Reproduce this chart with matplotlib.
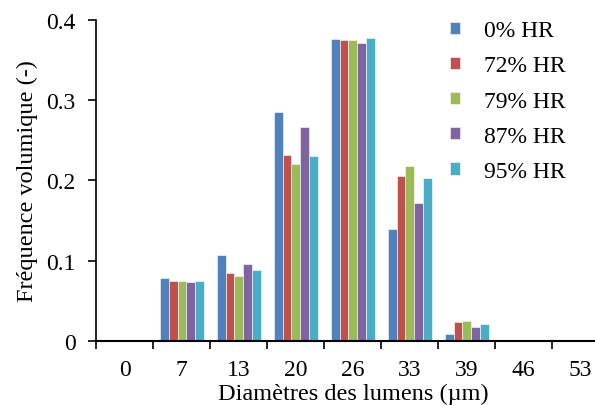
import numpy as np
import matplotlib
matplotlib.use("Agg")
import matplotlib.pyplot as plt

plt.rcParams['font.family'] = ['Liberation Serif', 'DejaVu Serif']

# classes de diamètre (µm)
diametres = ['0', '7', '13', '20', '26', '33', '39', '46', '53']

# fréquences volumiques par humidité relative
hr_0 = [0, 0.079, 0.107, 0.285, 0.377, 0.140, 0.008, 0, 0]
hr_72 = [0, 0.075, 0.085, 0.232, 0.375, 0.206, 0.023, 0, 0]
hr_79 = [0, 0.075, 0.081, 0.221, 0.375, 0.218, 0.025, 0, 0]
hr_87 = [0, 0.073, 0.096, 0.267, 0.372, 0.172, 0.017, 0, 0]
hr_95 = [0, 0.075, 0.088, 0.230, 0.3775, 0.203, 0.021, 0, 0]

series = [hr_0, hr_72, hr_79, hr_87, hr_95]
labels = ['0% HR', '72% HR', '79% HR', '87% HR', '95% HR']
colors = ['#4F81BD', '#C0504D', '#9BBB59', '#8064A2', '#4BACC6']

fig = plt.figure(figsize=(5.95, 4.06), dpi=100)
ax = fig.add_axes([0.162, 0.158, 0.862, 0.79])

x = np.arange(len(diametres))
w = 0.153
for i, (vals, lab, col) in enumerate(zip(series, labels, colors)):
    ax.bar(x + (i - 2) * w, vals, width=w, color=col, label=lab,
           edgecolor='white', linewidth=0.4)

ax.set_xlim(-0.5, len(diametres) - 0.5)
ax.set_ylim(0, 0.4)
ax.set_yticks([0, 0.1, 0.2, 0.3, 0.4])
ax.set_yticklabels(['0', '0.1', '0.2', '0.3', '0.4'])

ax.set_xticks(x)
ax.set_xticklabels(diametres)
ax.set_xticks(np.arange(len(diametres) + 1) - 0.5, minor=True)
ax.tick_params(axis='x', which='major', length=0, pad=13, labelsize=17)
ax.tick_params(axis='x', which='minor', length=6, width=1.2, direction='out')
ax.tick_params(axis='y', length=6, width=1.2, direction='out', labelsize=17, pad=9)

for s in ['top', 'right']:
    ax.spines[s].set_visible(False)
ax.spines['left'].set_linewidth(1.2)
ax.spines['bottom'].set_linewidth(1.5)

ax.set_ylabel('Fréquence volumique (-)', fontsize=17.5, labelpad=6)
ax.set_xlabel('Diamètres des lumens (µm)', fontsize=17.5, labelpad=2)

ax.legend(loc='upper left', bbox_to_anchor=(0.72, 1.0), bbox_transform=fig.transFigure,
          frameon=False, fontsize=17, handlelength=0.42, handleheight=0.42,
          labelspacing=0.6, handletextpad=1.05)

fig.savefig('out.png', dpi=100)
